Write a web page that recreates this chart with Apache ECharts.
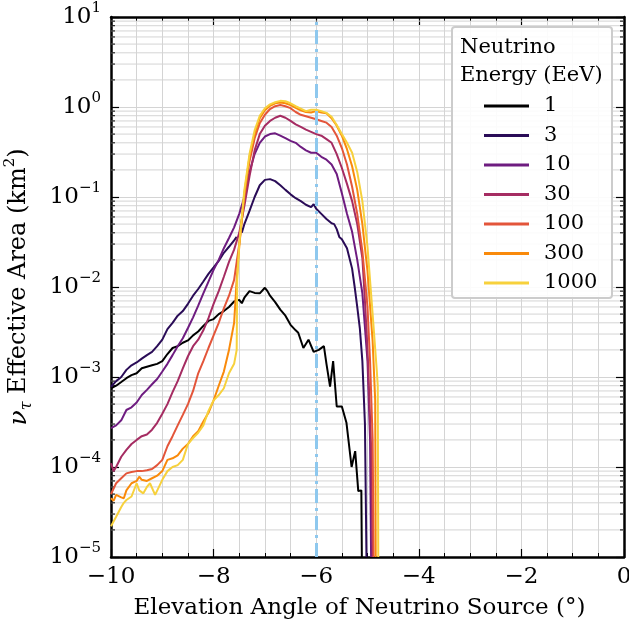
<!DOCTYPE html>
<html>
<head>
<meta charset="utf-8">
<script src="https://cdn.jsdelivr.net/npm/echarts@6/dist/echarts.min.js"></script>
<style>
html,body{margin:0;padding:0;background:#fff;}
#chart{width:629px;height:626px;}
</style>
</head>
<body>
<div id="chart"></div>
<script>
// energies in EeV, one curve each
var energies = ['1', '3', '10', '30', '100', '300', '1000'];
var colors = ['#000000', '#2a0c57', '#6e1c80', '#a52c62', '#e3553a', '#f98a0b', '#f7d13c'];

// [elevation angle (deg), effective area (km^2)]
var e1 = [[-10,7.5e-4],[-9.9,8e-4],[-9.8,8.8e-4],[-9.7,9.7e-4],[-9.6,1.05e-3],[-9.5,1.1e-3],[-9.4,1.25e-3],[-9.3,1.3e-3],[-9.2,1.35e-3],[-9.1,1.4e-3],[-9,1.5e-3],[-8.9,1.8e-3],[-8.8,2.1e-3],[-8.7,2.2e-3],[-8.6,2.4e-3],[-8.5,2.55e-3],[-8.4,2.9e-3],[-8.3,3.2e-3],[-8.2,3.7e-3],[-8.1,4.2e-3],[-8,4.4e-3],[-7.9,5e-3],[-7.8,5.4e-3],[-7.7,6e-3],[-7.6,6.9e-3],[-7.5,7.2e-3],[-7.45,6.6e-3],[-7.4,7.6e-3],[-7.3,9e-3],[-7.2,8.6e-3],[-7.1,8.5e-3],[-7,9.8e-3],[-6.95,9e-3],[-6.9,8e-3],[-6.8,6.8e-3],[-6.7,5.6e-3],[-6.6,4.8e-3],[-6.5,3.8e-3],[-6.4,3.3e-3],[-6.35,3.1e-3],[-6.25,2.1e-3],[-6.15,2.6e-3],[-6.05,1.9e-3],[-5.95,2e-3],[-5.85,2.2e-3],[-5.8,1.4e-3],[-5.73,7.8e-4],[-5.67,1.5e-3],[-5.6,4.7e-4],[-5.5,4.7e-4],[-5.41,3.1e-4],[-5.31,1e-4],[-5.24,1.5e-4],[-5.18,5.4e-5],[-5.12,5.5e-5],[-5.11,1e-5]];
var e3 = [[-10,7.8e-4],[-9.9,9e-4],[-9.8,1e-3],[-9.7,1.2e-3],[-9.6,1.35e-3],[-9.5,1.45e-3],[-9.4,1.6e-3],[-9.3,1.75e-3],[-9.2,1.9e-3],[-9.1,2.2e-3],[-9,2.6e-3],[-8.9,3.4e-3],[-8.8,4e-3],[-8.7,4.8e-3],[-8.6,5.4e-3],[-8.5,6.5e-3],[-8.4,8e-3],[-8.3,9.5e-3],[-8.2,1.15e-2],[-8.1,1.4e-2],[-8,1.65e-2],[-7.9,1.95e-2],[-7.8,2.4e-2],[-7.7,2.8e-2],[-7.6,3.3e-2],[-7.55,3.6e-2],[-7.5,null],[-7.45,4e-2],[-7.4,5e-2],[-7.3,7e-2],[-7.2,0.1],[-7.1,0.135],[-7,0.155],[-6.9,0.158],[-6.8,0.15],[-6.7,0.135],[-6.6,0.12],[-6.5,0.107],[-6.4,0.097],[-6.3,0.09],[-6.2,0.082],[-6.1,0.077],[-6.05,0.083],[-6,0.074],[-5.9,0.065],[-5.8,0.057],[-5.7,0.051],[-5.65,0.05],[-5.6,0.044],[-5.55,0.036],[-5.5,0.034],[-5.4,0.027],[-5.3,0.016],[-5.25,0.01],[-5.2,6e-3],[-5.15,3.5e-3],[-5.1,1.5e-3],[-5.05,3e-4],[-5.02,1e-5]];
var e10 = [[-10,2.7e-4],[-9.9,2.9e-4],[-9.8,3.3e-4],[-9.7,4.3e-4],[-9.6,4.6e-4],[-9.5,5.2e-4],[-9.4,6.3e-4],[-9.3,7.2e-4],[-9.2,8.3e-4],[-9.1,9.5e-4],[-9,1.15e-3],[-8.9,1.4e-3],[-8.8,1.75e-3],[-8.7,2.2e-3],[-8.6,2.7e-3],[-8.5,3.5e-3],[-8.4,4.6e-3],[-8.3,6.2e-3],[-8.2,8.5e-3],[-8.1,1.15e-2],[-8,1.55e-2],[-7.9,2e-2],[-7.8,2.7e-2],[-7.7,3.5e-2],[-7.6,4.6e-2],[-7.5,6.5e-2],[-7.4,0.1],[-7.3,0.19],[-7.2,0.3],[-7.1,0.4],[-7,0.47],[-6.9,0.5],[-6.8,0.51],[-6.7,0.48],[-6.6,0.45],[-6.5,0.42],[-6.4,0.4],[-6.3,0.36],[-6.2,0.33],[-6.1,0.31],[-6,0.31],[-5.9,0.28],[-5.8,0.26],[-5.7,0.23],[-5.6,0.18],[-5.5,0.11],[-5.4,0.065],[-5.3,0.041],[-5.2,0.02],[-5.1,8.5e-3],[-5,1.5e-3],[-4.95,2e-4],[-4.93,1e-5]];
var e30 = [[-10,1.1e-4],[-9.95,9e-5],[-9.9,1e-4],[-9.8,1.3e-4],[-9.7,1.55e-4],[-9.6,1.8e-4],[-9.5,2e-4],[-9.4,2.2e-4],[-9.3,2.3e-4],[-9.2,2.6e-4],[-9.1,3.1e-4],[-9,3.9e-4],[-8.9,5e-4],[-8.8,6.8e-4],[-8.7,9e-4],[-8.6,1.25e-3],[-8.5,1.7e-3],[-8.4,2.2e-3],[-8.3,2.6e-3],[-8.2,3.3e-3],[-8.1,4.5e-3],[-8,6.5e-3],[-7.9,9e-3],[-7.8,1.3e-2],[-7.7,1.9e-2],[-7.6,2.6e-2],[-7.5,4e-2],[-7.4,0.08],[-7.3,0.17],[-7.2,0.33],[-7.1,0.5],[-7,0.62],[-6.9,0.7],[-6.8,0.76],[-6.7,0.8],[-6.6,0.76],[-6.5,0.7],[-6.4,0.64],[-6.3,0.6],[-6.2,0.56],[-6.1,0.53],[-6,0.5],[-5.9,0.48],[-5.8,0.44],[-5.7,0.4],[-5.6,0.3],[-5.5,0.21],[-5.4,0.14],[-5.3,0.09],[-5.2,0.05],[-5.1,0.021],[-5.05,7e-3],[-5,2e-3],[-4.93,1.7e-4],[-4.9,1e-5]];
var e100 = [[-10,5e-5],[-9.9,6.6e-5],[-9.8,7.5e-5],[-9.7,8.5e-5],[-9.6,8.8e-5],[-9.5,9e-5],[-9.4,9e-5],[-9.3,9.2e-5],[-9.2,9.5e-5],[-9.1,1.05e-4],[-9,1.2e-4],[-8.9,1.7e-4],[-8.8,2.2e-4],[-8.7,2.9e-4],[-8.6,3.8e-4],[-8.5,5e-4],[-8.4,7e-4],[-8.3,1.1e-3],[-8.2,1.5e-3],[-8.1,2.1e-3],[-8,2.9e-3],[-7.9,4e-3],[-7.8,5.8e-3],[-7.7,8e-3],[-7.6,1.2e-2],[-7.5,3e-2],[-7.4,0.1],[-7.3,0.25],[-7.2,0.45],[-7.1,0.66],[-7,0.82],[-6.9,0.95],[-6.8,1.02],[-6.7,1.05],[-6.6,1.02],[-6.5,0.97],[-6.4,0.88],[-6.3,0.82],[-6.2,0.79],[-6.1,0.76],[-6,0.73],[-5.9,0.7],[-5.8,0.67],[-5.7,0.6],[-5.6,0.48],[-5.5,0.35],[-5.4,0.23],[-5.3,0.13],[-5.2,0.065],[-5.1,0.025],[-5,6e-3],[-4.95,1.5e-3],[-4.9,2e-4],[-4.88,1e-5]];
var e300 = [[-10,4.5e-5],[-9.95,4.2e-5],[-9.9,4.9e-5],[-9.8,4.6e-5],[-9.75,4.5e-5],[-9.7,5.5e-5],[-9.6,6.6e-5],[-9.5,7e-5],[-9.45,7.8e-5],[-9.4,7.2e-5],[-9.3,7e-5],[-9.2,7.5e-5],[-9.1,8e-5],[-9,9e-5],[-8.9,1.2e-4],[-8.8,1.25e-4],[-8.7,1.35e-4],[-8.6,1.6e-4],[-8.5,1.8e-4],[-8.4,2.2e-4],[-8.3,2.5e-4],[-8.2,3.2e-4],[-8.1,4e-4],[-8,5.5e-4],[-7.9,8e-4],[-7.8,1.15e-3],[-7.7,2e-3],[-7.6,4e-3],[-7.55,1.2e-2],[-7.5,2.8e-2],[-7.4,0.11],[-7.3,0.28],[-7.2,0.5],[-7.1,0.75],[-7,0.92],[-6.9,1.03],[-6.8,1.1],[-6.7,1.12],[-6.6,1.1],[-6.5,1.05],[-6.4,0.98],[-6.3,0.92],[-6.2,0.88],[-6.1,0.87],[-6,0.9],[-5.9,0.87],[-5.8,0.85],[-5.7,0.75],[-5.6,0.62],[-5.5,0.48],[-5.4,0.34],[-5.3,0.22],[-5.2,0.12],[-5.1,0.05],[-5,0.015],[-4.9,2.5e-3],[-4.85,5.5e-4],[-4.84,1e-5]];
var e1000 = [[-10,2.2e-5],[-9.9,2.8e-5],[-9.8,3.6e-5],[-9.75,4e-5],[-9.7,4.3e-5],[-9.6,4.7e-5],[-9.5,6.6e-5],[-9.45,5.5e-5],[-9.37,5.1e-5],[-9.3,6e-5],[-9.24,6.6e-5],[-9.14,4.9e-5],[-9,7.2e-5],[-8.9,9e-5],[-8.8,1e-4],[-8.7,1.05e-4],[-8.6,1.2e-4],[-8.5,1.8e-4],[-8.4,2.1e-4],[-8.3,2.4e-4],[-8.2,2.9e-4],[-8.1,4.2e-4],[-8,5.5e-4],[-7.9,6.3e-4],[-7.8,7.5e-4],[-7.7,1.1e-3],[-7.6,1.4e-3],[-7.55,2e-3],[-7.54,1.2e-2],[-7.5,3e-2],[-7.4,0.12],[-7.3,0.3],[-7.2,0.55],[-7.1,0.8],[-7,0.97],[-6.9,1.07],[-6.8,1.13],[-6.7,1.17],[-6.6,1.16],[-6.5,1.1],[-6.4,1.02],[-6.3,0.96],[-6.2,0.9],[-6.1,0.93],[-6,0.93],[-5.9,0.9],[-5.8,0.86],[-5.7,0.78],[-5.6,0.63],[-5.5,0.5],[-5.4,0.4],[-5.3,0.31],[-5.2,0.19],[-5.1,0.09],[-5,0.028],[-4.9,5e-3],[-4.82,1.2e-3],[-4.8,8e-4],[-4.79,1e-5]];
var seriesData = [e1, e3, e10, e30, e100, e300, e1000];

// axis ticks
var xMin = -10, xMax = 0, xStep = 2;
var yMin = 1e-5, yMax = 10;
var yMinorTicks = [2e-5,3e-5,4e-5,5e-5,6e-5,7e-5,8e-5,9e-5,
  2e-4,3e-4,4e-4,5e-4,6e-4,7e-4,8e-4,9e-4,
  2e-3,3e-3,4e-3,5e-3,6e-3,7e-3,8e-3,9e-3,
  2e-2,3e-2,4e-2,5e-2,6e-2,7e-2,8e-2,9e-2,
  0.2,0.3,0.4,0.5,0.6,0.7,0.8,0.9,
  2,3,4,5,6,7,8,9];
var refAngle = -6;

var FONT = 'DejaVu Serif';
var gridColor = '#d4d4d4';

var chart = echarts.init(document.getElementById('chart'));

function minus(v) {
    return String(v).replace('-', '\u2212');
}

var lineSeries = energies.map(function (name, i) {
    return {
        name: name,
        type: 'line',
        data: seriesData[i],
        symbol: 'none',
        clip: true,
        z: 3,
        lineStyle: { width: 2, color: colors[i] },
        itemStyle: { color: colors[i] }
    };
});

var axisBase = {
    axisLine: { show: true, onZero: false, lineStyle: { color: '#000', width: 2.5 } },
    axisTick: { show: true, inside: true, length: 8, lineStyle: { color: '#000', width: 1.2 } }
};

var option = {
    animation: false,
    grid: { left: 111, right: 5, top: 17, bottom: 69, containLabel: false, outerBoundsMode: 'none' },
    xAxis: [
        Object.assign({}, axisBase, {
            type: 'value', position: 'bottom', min: xMin, max: xMax, interval: xStep,
            name: 'Elevation Angle of Neutrino Source (\u00b0)',
            nameLocation: 'middle', nameGap: 40,
            nameTextStyle: { fontFamily: FONT, fontSize: 23, color: '#000', padding: [0, 16, 0, 0] },
            axisLabel: { margin: 9, fontFamily: FONT, fontSize: 23, color: '#000', formatter: minus },
            minorTick: { show: true, splitNumber: 4, length: 4, lineStyle: { color: '#000', width: 1 } },
            splitLine: { show: true, lineStyle: { color: gridColor, width: 1 } },
            minorSplitLine: { show: true, lineStyle: { color: gridColor, width: 1 } }
        }),
        Object.assign({}, axisBase, {
            type: 'value', position: 'top', min: xMin, max: xMax, interval: xStep,
            axisLabel: { show: false },
            minorTick: { show: true, splitNumber: 4, length: 4, lineStyle: { color: '#000', width: 1 } },
            splitLine: { show: false }
        })
    ],
    yAxis: [
        Object.assign({}, axisBase, {
            type: 'log', logBase: 10, position: 'left', min: yMin, max: yMax, splitNumber: 6,
            name: '{nu|\u03bd}{sub|\u03c4} Effective Area (km{sup|2})',
            nameLocation: 'middle', nameGap: 76, nameRotate: 90,
            nameTextStyle: {
                fontFamily: FONT, fontSize: 24, color: '#000', lineHeight: 32,
                rich: {
                    nu: { fontFamily: FONT, fontSize: 25, fontStyle: 'italic', lineHeight: 32 },
                    sub: { fontFamily: FONT, fontSize: 16, fontStyle: 'italic', verticalAlign: 'bottom', lineHeight: 20 },
                    sup: { fontFamily: FONT, fontSize: 15, verticalAlign: 'top', lineHeight: 17 }
                }
            },
            axisLabel: {
                margin: 10, fontFamily: FONT, fontSize: 23, color: '#000', lineHeight: 32,
                formatter: function (v) {
                    var e = Math.round(Math.log10(v));
                    return '10{sup|' + minus(e) + '}';
                },
                rich: { sup: { fontFamily: FONT, fontSize: 15, color: '#000', verticalAlign: 'top', lineHeight: 15 } }
            },
            splitLine: { show: true, lineStyle: { color: gridColor, width: 1 } }
        }),
        Object.assign({}, axisBase, {
            type: 'log', logBase: 10, position: 'right', min: yMin, max: yMax, splitNumber: 6,
            axisLabel: { show: false },
            splitLine: { show: false }
        })
    ],
    legend: {
        orient: 'vertical',
        left: 479, top: 90,
        icon: 'rect',
        itemWidth: 45, itemHeight: 3, itemGap: 7.5,
        data: energies,
        z: 6,
        textStyle: { fontFamily: FONT, fontSize: 21, color: '#000', lineHeight: 22, padding: [0, 0, 0, 10] }
    },
    graphic: [
        {
            type: 'rect', z: 5,
            shape: { x: 452, y: 27, width: 160, height: 271, r: 3 },
            style: { fill: 'rgba(255,255,255,0.9)', stroke: '#cccccc', lineWidth: 2 }
        },
        {
            type: 'text', z: 6, x: 460, y: 34,
            style: { text: 'Neutrino\nEnergy (EeV)', font: '21px "DejaVu Serif"', fill: '#000', lineHeight: 28 }
        }
    ],
    series: [
        {
            // minor log grid lines and ticks
            type: 'custom',
            z: 1,
            silent: true,
            data: yMinorTicks.map(function (v) { return [xMin, v]; }),
            renderItem: function (params, api) {
                var p0 = api.coord([xMin, api.value(1)]);
                var p1 = api.coord([xMax, api.value(1)]);
                return {
                    type: 'group',
                    children: [
                        { type: 'line', shape: { x1: p0[0], y1: p0[1], x2: p1[0], y2: p1[1] }, style: { stroke: gridColor, lineWidth: 1 } },
                        { type: 'line', shape: { x1: p0[0], y1: p0[1], x2: p0[0] + 4, y2: p0[1] }, style: { stroke: '#000', lineWidth: 1 } },
                        { type: 'line', shape: { x1: p1[0] - 4, y1: p1[1], x2: p1[0], y2: p1[1] }, style: { stroke: '#000', lineWidth: 1 } }
                    ]
                };
            }
        }
    ].concat(lineSeries).concat([
        {
            type: 'line',
            data: [],
            z: 4,
            markLine: {
                silent: true,
                symbol: 'none',
                label: { show: false },
                lineStyle: { color: '#8ec8ee', width: 3, type: [14, 5, 3, 5] },
                data: [{ xAxis: refAngle }]
            }
        }
    ])
};

chart.setOption(option);
</script>
</body>
</html>
